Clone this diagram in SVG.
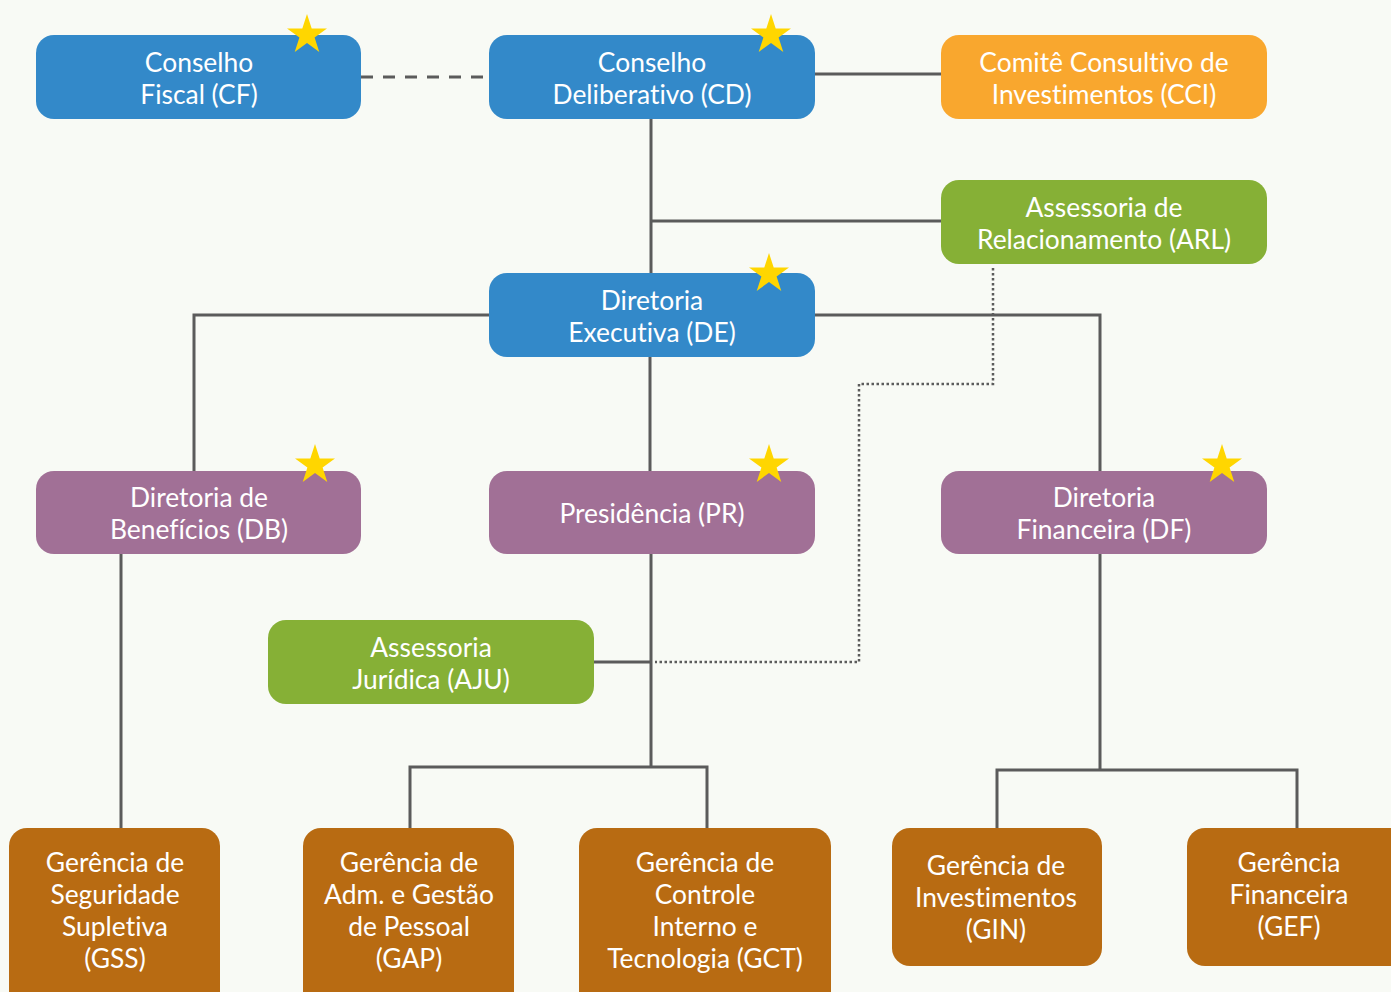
<svg xmlns="http://www.w3.org/2000/svg" width="1391" height="992" viewBox="0 0 1391 992">
<style>
.n rect{rx:18px;ry:18px}
.blue{fill:#3389c9}.orange{fill:#f9a72e}.green{fill:#86b036}.purple{fill:#a17096}.brown{fill:#b86b12}
text{font-family:Lato,"Liberation Sans",sans-serif;font-size:26.4px;fill:#ffffff;text-anchor:middle;font-variant-ligatures:none;font-feature-settings:"liga" 0,"dlig" 0}
.c path{fill:none;stroke:#5b5b5b;stroke-width:3}
.c .dash{stroke-dasharray:12 10}
.c .dot{stroke-width:2.5;stroke-dasharray:2.5 2.5}
.star{fill:#ffd600}
</style>
<defs>
<path id="star" d="M0,-21 L4.7,-6.5 L20,-6.5 L7.6,2.5 L12.3,17 L0,8 L-12.3,17 L-7.6,2.5 L-20,-6.5 L-4.7,-6.5 Z"/>
</defs>
<rect x="0" y="0" width="1391" height="992" fill="#f8faf5"/>
<g class="c" id="connectors">
<path class="dash" d="M361,77 H489"/>
<path d="M815,74 H941"/>
<path d="M651,119 V273"/>
<path d="M651,221 H941"/>
<path d="M489,315 H194 V471"/>
<path d="M815,315 H1100 V471"/>
<path d="M650,357 V471"/>
<path d="M651,554 V767"/>
<path d="M594,662 H651"/>
<path class="dot" d="M993,268 V384 H859 V662 H655"/>
<path d="M410,828 V767 H707 V828"/>
<path d="M121,554 V828"/>
<path d="M1100,554 V770"/>
<path d="M997,828 V770 H1297 V828"/>
</g>
<g class="n" id="CF"><rect class="blue" x="36" y="35" width="325" height="84"/><text x="199" y="72">Conselho</text><text x="199" y="104">Fiscal (CF)</text><use href="#star" class="star" x="307" y="35"/></g>
<g class="n" id="CD"><rect class="blue" x="489" y="35" width="326" height="84"/><text x="652" y="72">Conselho</text><text x="652" y="104">Deliberativo (CD)</text><use href="#star" class="star" x="771" y="35"/></g>
<g class="n" id="CCI"><rect class="orange" x="941" y="35" width="326" height="84"/><text x="1104" y="72">Comitê Consultivo de</text><text x="1104" y="104">Investimentos (CCI)</text></g>
<g class="n" id="ARL"><rect class="green" x="941" y="180" width="326" height="84"/><text x="1104" y="217">Assessoria de</text><text x="1104" y="249">Relacionamento (ARL)</text></g>
<g class="n" id="DE"><rect class="blue" x="489" y="273" width="326" height="84"/><text x="652" y="310">Diretoria</text><text x="652" y="342">Executiva (DE)</text><use href="#star" class="star" x="769" y="274"/></g>
<g class="n" id="DB"><rect class="purple" x="36" y="471" width="325" height="83"/><text x="199" y="507">Diretoria de</text><text x="199" y="539">Benefícios (DB)</text><use href="#star" class="star" x="315" y="465"/></g>
<g class="n" id="PR"><rect class="purple" x="489" y="471" width="326" height="83"/><text x="652" y="523">Presidência (PR)</text><use href="#star" class="star" x="769" y="465"/></g>
<g class="n" id="DF"><rect class="purple" x="941" y="471" width="326" height="83"/><text x="1104" y="507">Diretoria</text><text x="1104" y="539">Financeira (DF)</text><use href="#star" class="star" x="1222" y="465"/></g>
<g class="n" id="AJU"><rect class="green" x="268" y="620" width="326" height="84"/><text x="431" y="657">Assessoria</text><text x="431" y="689">Jurídica (AJU)</text></g>
<g class="n" id="GSS"><rect class="brown" x="9" y="828" width="211" height="184"/><text x="115" y="872">Gerência de</text><text x="115" y="904">Seguridade</text><text x="115" y="936">Supletiva</text><text x="115" y="968">(GSS)</text></g>
<g class="n" id="GAP"><rect class="brown" x="303" y="828" width="211" height="184"/><text x="409" y="872">Gerência de</text><text x="409" y="904">Adm. e Gestão</text><text x="409" y="936">de Pessoal</text><text x="409" y="968">(GAP)</text></g>
<g class="n" id="GCT"><rect class="brown" x="579" y="828" width="252" height="184"/><text x="705" y="872">Gerência de</text><text x="705" y="904">Controle</text><text x="705" y="936">Interno e</text><text x="705" y="968">Tecnologia (GCT)</text></g>
<g class="n" id="GIN"><rect class="brown" x="892" y="828" width="210" height="138"/><text x="996" y="875">Gerência de</text><text x="996" y="907">Investimentos</text><text x="996" y="939">(GIN)</text></g>
<g class="n" id="GEF"><rect class="brown" x="1187" y="828" width="220" height="138"/><text x="1289" y="872">Gerência</text><text x="1289" y="904">Financeira</text><text x="1289" y="936">(GEF)</text></g>
</svg>
